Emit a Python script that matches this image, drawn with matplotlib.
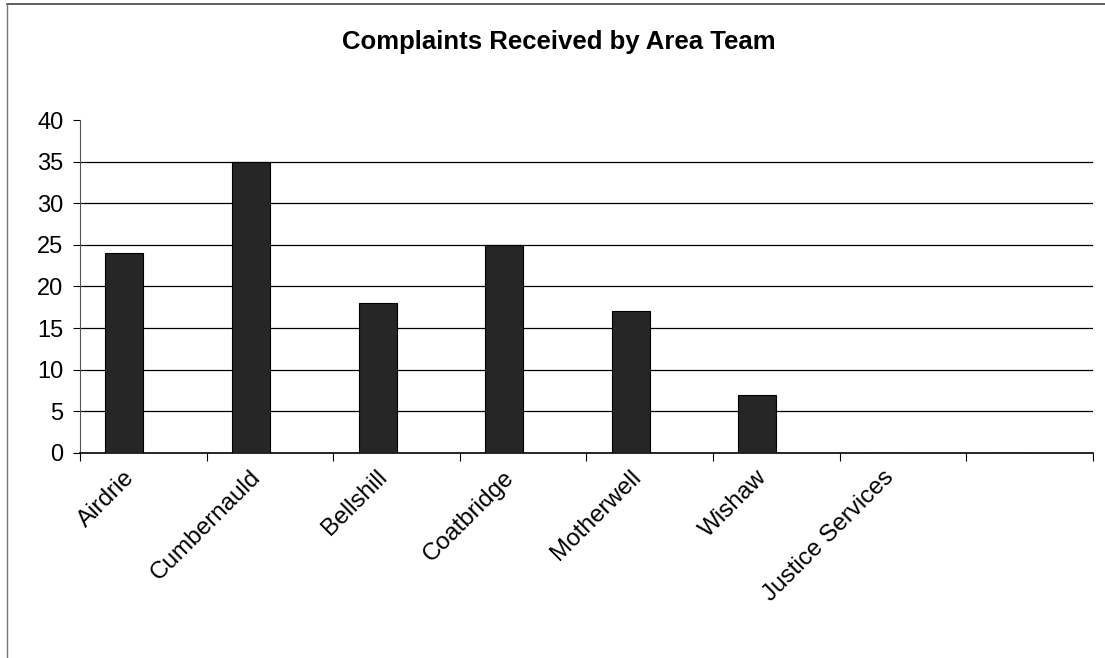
import numpy as np
import matplotlib
matplotlib.use("Agg")
import matplotlib.pyplot as plt
from matplotlib.lines import Line2D

# data
categories = ["Airdrie", "Cumbernauld", "Bellshill", "Coatbridge",
              "Motherwell", "Wishaw", "Justice Services", ""]
complaints = [24, 35, 18, 25, 17, 7, 0, 0]
y_ticks = [0, 5, 10, 15, 20, 25, 30, 35, 40]

plt.rcParams['font.family'] = ['Liberation Sans', 'DejaVu Sans']

fig = plt.figure(figsize=(11.05, 6.58), dpi=100)
ax = fig.add_axes([0.0724, 0.3116, 0.9167, 0.506])

x = np.arange(len(categories))
bar_w = 0.3
# bars sit left of centre (second, empty series in the original)
ax.bar(x - bar_w / 2, complaints, width=bar_w, color='#262626',
       edgecolor='black', linewidth=0.8, zorder=3)

for v in y_ticks[1:-1]:
    ax.axhline(v, color='black', linewidth=0.9, zorder=1)

ax.set_xlim(-0.5, len(categories) - 0.5)
ax.set_ylim(0, 40)
ax.set_yticks(y_ticks)
ax.set_yticklabels([str(v) for v in y_ticks], fontsize=17)
ax.tick_params(axis='y', length=5, width=0.8, pad=7)

ax.set_xticks(np.arange(len(categories) + 1) - 0.5)
ax.set_xticklabels([])
ax.tick_params(axis='x', length=6, width=0.8)
for i, lab in enumerate(categories):
    ax.text(i - 0.16, -1.6, lab, rotation=45, ha='right', va='top',
            rotation_mode='anchor', fontsize=17.5, transform=ax.transData)

for s in ['top', 'right']:
    ax.spines[s].set_visible(False)
ax.spines['left'].set_color('#555555')
ax.spines['bottom'].set_color('black')
ax.spines['bottom'].set_linewidth(1.2)

fig.text(559 / 1105, 1 - 42 / 658, "Complaints Received by Area Team",
         ha='center', va='center', fontsize=18.5, fontweight='bold')

# outer frame (top and left edges visible)
fig.add_artist(Line2D([7 / 1105, 1.0], [1 - 4 / 658, 1 - 4 / 658],
                      color='#444444', linewidth=1.2))
fig.add_artist(Line2D([7 / 1105, 7 / 1105], [0.0, 1 - 4 / 658],
                      color='#777777', linewidth=1.0))

plt.savefig("out.png", dpi=100)
